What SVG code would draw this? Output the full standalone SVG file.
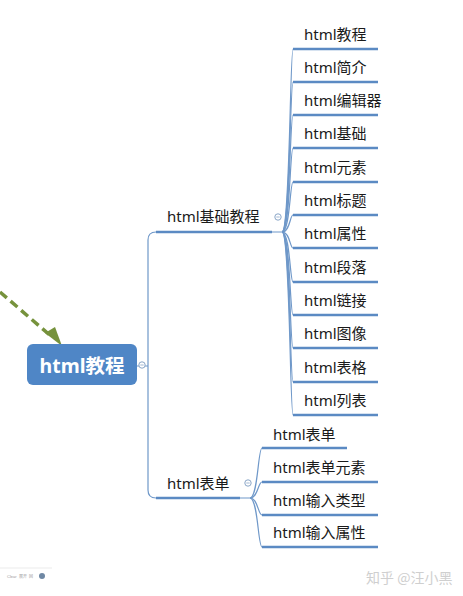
<svg xmlns="http://www.w3.org/2000/svg" width="463" height="596" viewBox="0 0 463 596">
<style>
.t{font-family:"Noto Sans","Noto Sans CJK SC",sans-serif;font-size:15px;fill:#1a1a1a}
.u{stroke:#5b8ac3;stroke-width:2.6;fill:none;stroke-linecap:butt}
.c{stroke:#6f98c9;stroke-width:1.2;fill:none}
.col{fill:#fff;stroke:#8aa6c8;stroke-width:1}
.wm{font-family:"Noto Sans CJK SC",sans-serif;font-size:14px;fill:#cfcfcf}
</style>
<defs>
<marker id="ah" markerWidth="6" markerHeight="6" refX="3" refY="3" orient="auto" markerUnits="strokeWidth">
<path d="M0,0 L6,3 L0,6 Z" fill="#76923c"/>
</marker>
</defs>
<rect width="463" height="596" fill="#fff"/>

<g id="connectors">
<path d="M0,292 L52,337" stroke="#76923c" stroke-width="3.5" stroke-dasharray="9,5" fill="none"/>
<path d="M45,333 L62,346 L55,327 Z" fill="#76923c"/>
<!-- root trunk -->
<path class="c" d="M136,366 L148,366 M148,240 Q148,232 156,232 M148,240 L148,490 Q148,498 156,498"/>
<!-- branch 1 children -->
<path class="c" d="M272,232 L282,232 C290,232 290,49 293,49"/>
<path class="c" d="M282,232 C290,232 290,82 293,82"/>
<path class="c" d="M282,232 C290,232 290,115 293,115"/>
<path class="c" d="M282,232 C290,232 290,148 293,148"/>
<path class="c" d="M282,232 C290,232 290,182 293,182"/>
<path class="c" d="M282,232 C290,232 290,215 293,215"/>
<path class="c" d="M282,232 C290,232 290,248 293,248"/>
<path class="c" d="M282,232 C290,232 290,282 293,282"/>
<path class="c" d="M282,232 C290,232 290,315 293,315"/>
<path class="c" d="M282,232 C290,232 290,348 293,348"/>
<path class="c" d="M282,232 C290,232 290,382 293,382"/>
<path class="c" d="M282,232 C290,232 290,415 293,415"/>
<!-- branch 2 children -->
<path class="c" d="M240,498 L250,498 C258,498 258,448 262,448"/>
<path class="c" d="M250,498 C258,498 258,482 262,482"/>
<path class="c" d="M250,498 C258,498 258,515 262,515"/>
<path class="c" d="M250,498 C258,498 258,547 262,547"/>
</g>

<g id="root">
<rect x="27" y="344" width="110" height="41" rx="6" fill="#4f86c6"/>
<text x="82" y="373" text-anchor="middle" font-family="Noto Sans,Noto Sans CJK SC,sans-serif" font-size="19.5" font-weight="bold" fill="#fff">html教程</text>
<circle class="col" cx="142" cy="365" r="3.2"/><line x1="140.3" y1="365" x2="143.7" y2="365" stroke="#8aa6c8" stroke-width="0.8"/>
</g>

<g id="b1">
<path class="u" d="M156,232 L272,232"/>
<text class="t" x="167" y="222">html基础教程</text>
<circle class="col" cx="278" cy="217" r="3.2"/><line x1="276.3" y1="217" x2="279.7" y2="217" stroke="#8aa6c8" stroke-width="0.8"/>
</g>
<g id="b1c1"><path class="u" d="M293,49 L378,49"/><text class="t" x="304" y="39.5">html教程</text></g>
<g id="b1c2"><path class="u" d="M293,82 L378,82"/><text class="t" x="304" y="72.5">html简介</text></g>
<g id="b1c3"><path class="u" d="M293,115 L378,115"/><text class="t" x="304" y="105.5">html编辑器</text></g>
<g id="b1c4"><path class="u" d="M293,148 L378,148"/><text class="t" x="304" y="138.5">html基础</text></g>
<g id="b1c5"><path class="u" d="M293,182 L378,182"/><text class="t" x="304" y="172.5">html元素</text></g>
<g id="b1c6"><path class="u" d="M293,215 L378,215"/><text class="t" x="304" y="205.5">html标题</text></g>
<g id="b1c7"><path class="u" d="M293,248 L378,248"/><text class="t" x="304" y="238.5">html属性</text></g>
<g id="b1c8"><path class="u" d="M293,282 L378,282"/><text class="t" x="304" y="272.5">html段落</text></g>
<g id="b1c9"><path class="u" d="M293,315 L378,315"/><text class="t" x="304" y="305.5">html链接</text></g>
<g id="b1c10"><path class="u" d="M293,348 L378,348"/><text class="t" x="304" y="338.5">html图像</text></g>
<g id="b1c11"><path class="u" d="M293,382 L378,382"/><text class="t" x="304" y="372.5">html表格</text></g>
<g id="b1c12"><path class="u" d="M293,415 L378,415"/><text class="t" x="304" y="405.5">html列表</text></g>

<g id="b2">
<path class="u" d="M156,498 L240,498"/>
<text class="t" x="167" y="489">html表单</text>
<circle class="col" cx="248" cy="483" r="3.2"/><line x1="246.3" y1="483" x2="249.7" y2="483" stroke="#8aa6c8" stroke-width="0.8"/>
</g>
<g id="b2c1"><path class="u" d="M262,448 L347,448"/><text class="t" x="273" y="439.5">html表单</text></g>
<g id="b2c2"><path class="u" d="M262,482 L378,482"/><text class="t" x="273" y="472.5">html表单元素</text></g>
<g id="b2c3"><path class="u" d="M262,515 L378,515"/><text class="t" x="273" y="505.5">html输入类型</text></g>
<g id="b2c4"><path class="u" d="M262,547 L378,547"/><text class="t" x="273" y="538">html输入属性</text></g>

<g id="footer">
<line x1="0" y1="568" x2="52" y2="568" stroke="#e6e6e6" stroke-width="0.8"/>
<text x="7" y="578" font-family="Liberation Sans,sans-serif" font-size="4" fill="#9a9a9a">Clear</text>
<text x="19" y="578" font-family="Noto Sans CJK SC,sans-serif" font-size="4" fill="#9a9a9a">展开</text>
<text x="29" y="578" font-family="Noto Sans CJK SC,sans-serif" font-size="4" fill="#9a9a9a">回</text>
<circle cx="42" cy="576" r="3" fill="#6f88a4"/>
<text class="wm" x="366" y="583">知乎 @汪小黑</text>
</g>
</svg>
